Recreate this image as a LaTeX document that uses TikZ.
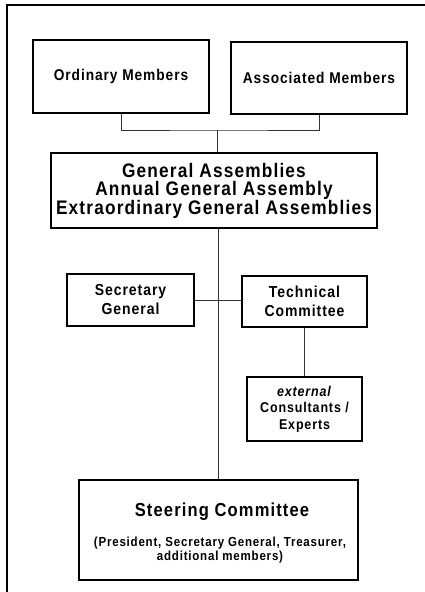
\documentclass[tikz,border=0pt]{standalone}
\usepackage{fontspec}
\setmainfont{Liberation Sans}[LetterSpace=6, FakeStretch=0.88]
\begin{document}
\begin{tikzpicture}[x=1pt,y=-1pt,
  box/.style={draw, line width=1.6pt, align=center, inner sep=0pt},
  conn/.style={line width=0.7pt, draw=black!80},
  fmem/.style={font=\bfseries\fontsize{15.6}{19}\selectfont},
  fga/.style={font=\bfseries\fontsize{19.6}{18.5}\selectfont},
  fmid/.style={font=\bfseries\fontsize{15.9}{19}\selectfont},
  fext/.style={font=\bfseries\fontsize{14.2}{16.5}\selectfont},
  fsct/.style={font=\bfseries\fontsize{18.8}{18}\selectfont},
  fscs/.style={font=\bfseries\fontsize{13.1}{14}\selectfont}]
\useasboundingbox (0,0) rectangle (425,592);
\draw[line width=1.2pt] (7,592) -- (7,5) -- (425,5);

\node[box, fmem, minimum width=176pt, minimum height=73pt] (ord) at (121,76.5) {Ordinary Members};
\node[box, fmem, minimum width=176pt, minimum height=72pt] (ass) at (319,78) {Associated Members};
\node[box, fga, minimum width=326pt, minimum height=75pt] (ga) at (214,190.5)
  {General Assemblies\\Annual General Assembly\\Extraordinary General Assemblies};
\node[box, fmid, minimum width=127pt, minimum height=52pt] (sg) at (130.5,300) {Secretary\\General};
\node[box, fmid, minimum width=125pt, minimum height=51pt] (tc) at (304.5,301.5) {Technical\\Committee};
\node[box, fext, minimum width=115pt, minimum height=64pt] (ext) at (304.5,409)
  {\textit{external}\\Consultants /\\Experts};
\node[box, minimum width=279pt, minimum height=100pt] (sc) at (218.5,530) {};
\node[fsct, anchor=base, inner sep=0pt] (sctitle) at (222,516) {Steering Committee};
\node[fscs, align=center, inner sep=0pt] (scsub) at (220,550)
  {(President, Secretary General, Treasurer,\\additional members)};

\coordinate (j) at (217,130);
\draw[conn] (ord.south) |- (j) -| (ass.south);
\draw[conn] (j) -- (j |- ga.north);
\draw[conn] (sc.north |- ga.south) -- (sc.north);
\draw[conn] (sg.east) -- (sg.east -| tc.west);
\draw[conn] (tc.south) -- (ext.north);
\end{tikzpicture}
\end{document}
